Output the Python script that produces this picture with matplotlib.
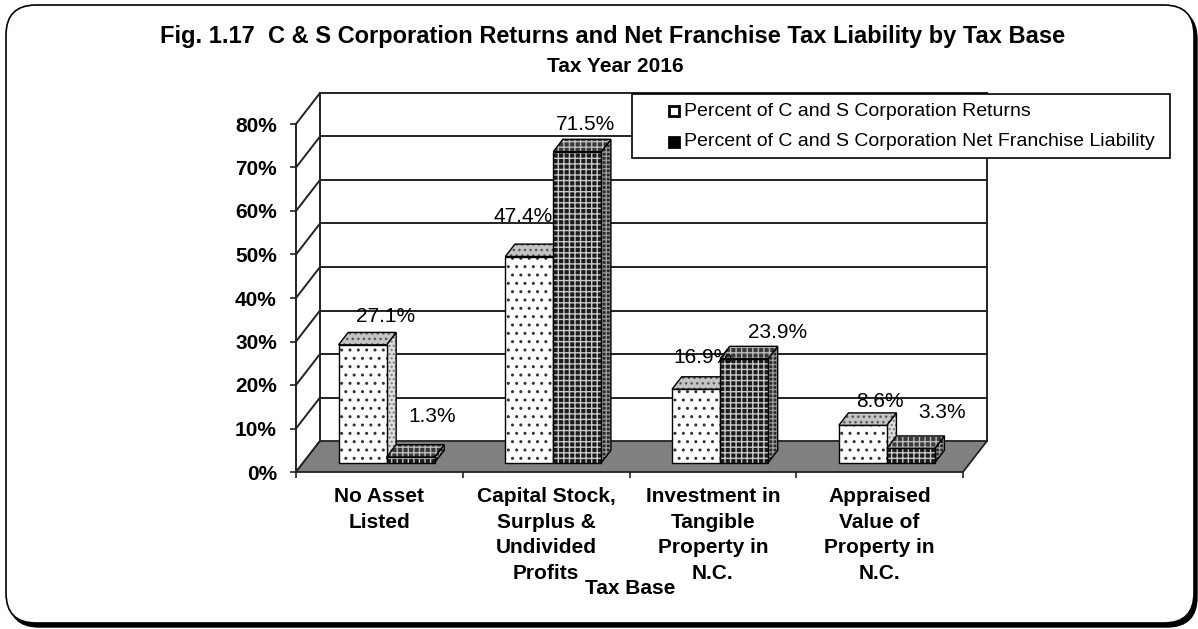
import matplotlib
matplotlib.use("Agg")
import matplotlib.pyplot as plt
from matplotlib.patches import Polygon, Rectangle, FancyBboxPatch
from matplotlib.transforms import IdentityTransform

plt.rcParams['font.family'] = ['Liberation Sans', 'DejaVu Sans']
plt.rcParams['hatch.linewidth'] = 1.0

# data
categories = ["No Asset\nListed",
              "Capital Stock,\nSurplus &\nUndivided\nProfits",
              "Investment in\nTangible\nProperty in\nN.C.",
              "Appraised\nValue of\nProperty in\nN.C."]
series_names = ["Percent of C and S Corporation Returns",
                "Percent of C and S Corporation Net Franchise Liability"]
returns_pct = [27.1, 47.4, 16.9, 8.6]
liability_pct = [1.3, 71.5, 23.9, 3.3]
y_ticks = [0, 10, 20, 30, 40, 50, 60, 70, 80]

# label nudges (category units, percent units), like Excel's 3D placement
returns_lbl_dx = [0.14, -0.04, 0.04, 0.10]
returns_lbl_dy = [6.6, 9.3, 7.3, 5.5]
liability_lbl_dx = [0.13, 0.05, 0.20, 0.19]
liability_lbl_dy = [9.4, 6.3, 6.1, 8.2]

W, H = 1198, 629
fig = plt.figure(figsize=(W / 100, H / 100), dpi=100)
fig.patch.set_facecolor('white')

# rounded frame with shadow
shadow = FancyBboxPatch((9, 2), 1188, 618, boxstyle="round,pad=0,rounding_size=30",
                        transform=IdentityTransform(), fc='black', ec='black', lw=1)
frame = FancyBboxPatch((6, 6), 1188, 618, boxstyle="round,pad=0,rounding_size=30",
                       transform=IdentityTransform(), fc='white', ec='black', lw=1.2)
fig.add_artist(shadow)
fig.add_artist(frame)
shadow.set_zorder(-2)
frame.set_zorder(-1)

ax = fig.add_axes([296 / W, 1 - 472 / H, 667 / W, 348 / H])
ax.set_xlim(0, 4)
ax.set_ylim(0, 80)
ax.patch.set_visible(False)

DX, DY = 24 / 166.75, 31 / 4.35   # depth offset of the back wall
F0, F1 = 0.3, 0.7                 # front / back depth of the bars
BW = 48 / 166.75                  # bar width
n = len(categories)

line_kw = dict(color='#222222', lw=1.4, clip_on=False, zorder=1)
for v in y_ticks:
    ax.plot([0, DX], [v, v + DY], **line_kw)
    if v > 0:
        ax.plot([DX, n + DX], [v + DY, v + DY], **line_kw)
ax.plot([DX, DX], [DY, y_ticks[-1] + DY], **line_kw)
ax.plot([n + DX, n + DX], [DY, y_ticks[-1] + DY], **line_kw)

floor = Polygon([(0, 0), (DX, DY), (n + DX, DY), (n, 0)], closed=True,
                fc='#808080', ec='#222222', lw=1.3, clip_on=False, zorder=2)
ax.add_patch(floor)


def face(pts, fc, hatch, hc, z):
    ax.add_patch(Polygon(pts, closed=True, fc=fc, ec='none', lw=0, clip_on=False, zorder=z))
    ax.add_patch(Polygon(pts, closed=True, fill=False, hatch=hatch, ec=hc, lw=0,
                         clip_on=False, zorder=z))
    ax.add_patch(Polygon(pts, closed=True, fill=False, ec='black', lw=1.0,
                         clip_on=False, zorder=z))


def bar(xl, v, style, z):
    xr = xl + BW
    a = lambda x, y, f: (x + f * DX, y + f * DY)
    front = [a(xl, 0, F0), a(xr, 0, F0), a(xr, v, F0), a(xl, v, F0)]
    top = [a(xl, v, F0), a(xr, v, F0), a(xr, v, F1), a(xl, v, F1)]
    side = [a(xr, 0, F0), a(xr, 0, F1), a(xr, v, F1), a(xr, v, F0)]
    face(side, *style['side'], z)
    face(front, *style['front'], z + 0.1)
    face(top, *style['top'], z + 0.1)


ret_style = {'front': ('white', '..', '#333333'),
             'top': ('#c4c4c4', '...', '#555555'),
             'side': ('#dddddd', '....', '#777777')}
liab_style = {'front': ('#1c1c1c', '+++', '#c8c8c8'),
              'top': ('#3a3a3a', '+++', '#bbbbbb'),
              'side': ('#2a2a2a', '++++', '#999999')}

z = 3
for i in range(n):
    c = i + 0.5
    bar(c - BW, returns_pct[i], ret_style, z)
    bar(c, liability_pct[i], liab_style, z + 1)
    z += 2
    ax.text(c - BW / 2 + F0 * DX + returns_lbl_dx[i], returns_pct[i] + F0 * DY + returns_lbl_dy[i],
            f"{returns_pct[i]}%", ha='center', va='center', fontsize=15, zorder=20, clip_on=False)
    ax.text(c + BW / 2 + F0 * DX + liability_lbl_dx[i], liability_pct[i] + F0 * DY + liability_lbl_dy[i],
            f"{liability_pct[i]}%", ha='center', va='center', fontsize=15, zorder=20, clip_on=False)

# axes
for s in ['top', 'right', 'bottom']:
    ax.spines[s].set_visible(False)
ax.spines['left'].set_linewidth(1.4)
ax.spines['left'].set_color('#222222')
ax.spines['left'].set_zorder(2.5)
ax.set_yticks(y_ticks, labels=[f"{v}%" for v in y_ticks], fontsize=15, fontweight='bold')
ax.tick_params(axis='y', direction='out', length=4.3, width=1.2, pad=9.5, color='#222222')
ax.set_xticks(range(n + 1), labels=[])
ax.tick_params(axis='x', which='major', direction='out', length=4.3, width=1.2, color='#222222')
ax.set_xticks([i + 0.5 for i in range(n)], labels=categories, minor=True,
              fontsize=15, fontweight='bold', linespacing=1.43)
ax.tick_params(axis='x', which='minor', length=0, pad=11)

fig.text(630 / W, 1 - 588 / H, "Tax Base", ha='center', va='center', fontsize=15, fontweight='bold')
fig.text(613 / W, 1 - 36 / H,
         "Fig. 1.17  C & S Corporation Returns and Net Franchise Tax Liability by Tax Base",
         ha='center', va='center', fontsize=17, fontweight='bold')
fig.text(615 / W, 1 - 67 / H, "Tax Year 2016", ha='center', va='center', fontsize=15, fontweight='bold')

# legend
leg_box = Rectangle((632 / W, 1 - 158 / H), (1170 - 632) / W, 64 / H, transform=fig.transFigure,
                    fc='white', ec='black', lw=1.2, zorder=5)
fig.add_artist(leg_box)
markers = [('white', 'black'), ('black', 'black')]
for k, name in enumerate(series_names):
    row = 111 + 31 * k
    fc, ec = markers[k]
    fig.add_artist(Rectangle((669 / W, 1 - (row + 5) / H), 10 / W, 10 / H, transform=fig.transFigure,
                             fc=fc, ec=ec, lw=2, zorder=6))
    fig.text(684 / W, 1 - row / H, name, ha='left', va='center', fontsize=14, zorder=6)

fig.savefig("out.png", dpi=100)
